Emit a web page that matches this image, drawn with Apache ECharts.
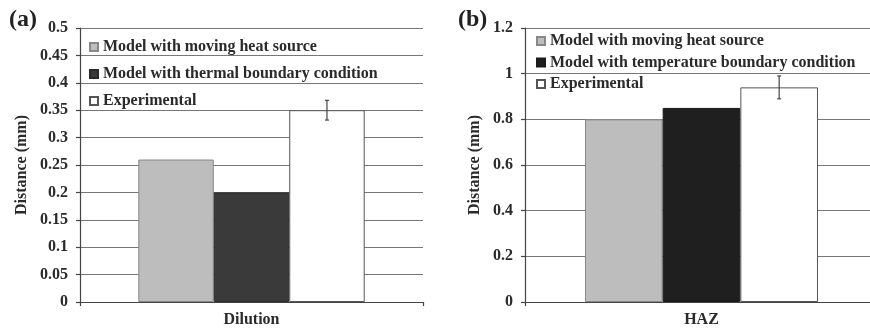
<!DOCTYPE html>
<html><head><meta charset="utf-8">
<script src="https://cdn.jsdelivr.net/npm/echarts@6/dist/echarts.min.js"></script>
<style>html,body{margin:0;padding:0;background:#fff}#c{width:870px;height:328px}</style>
</head><body><div id="c"></div>
<script>
// Panel (a)
const catA = ['Dilution'];
const namesA = ['Model with moving heat source', 'Model with thermal boundary condition', 'Experimental'];
const movingA = [0.26];
const thermalA = [0.20];
const expA = [0.35];
const expErrA = [0.018];
// Panel (b)
const catB = ['HAZ'];
const namesB = ['Model with moving heat source', 'Model with temperature boundary condition', 'Experimental'];
const movingB = [0.80];
const tempB = [0.85];
const expB = [0.94];
const expErrB = [0.05];

const FONT = '"Liberation Serif", "Times New Roman", serif';
const txt = {fontFamily: FONT, fontWeight: 'bold', fontSize: 16, color: '#2a2a2a'};
const BW = 0.22;

function yAxis(idx, max, interval, gap) {
  return {
    gridIndex: idx, type: 'value', min: 0, max: max, interval: interval,
    name: 'Distance (mm)', nameLocation: 'middle', nameGap: gap,
    nameTextStyle: Object.assign({}, txt),
    axisLine: {show: true, lineStyle: {color: '#444', width: 1.2}},
    axisTick: {show: true, length: 4, lineStyle: {color: '#444', width: 1.2}},
    axisLabel: Object.assign({margin: 12}, txt),
    splitLine: {show: true, lineStyle: {color: '#777', width: 1.2}}
  };
}
function xAxis(idx, cats) {
  return {
    gridIndex: idx, type: 'category', data: cats,
    name: cats[0], nameLocation: 'middle', nameGap: 10,
    nameTextStyle: Object.assign({}, txt),
    axisLine: {show: true, lineStyle: {color: '#444', width: 1.2}},
    axisTick: {show: true, length: 4, lineStyle: {color: '#444', width: 1.2}},
    axisLabel: {show: false}
  };
}
function bar(name, idx, data, color, border) {
  return {
    name: name, type: 'bar', xAxisIndex: idx, yAxisIndex: idx, data: data,
    barWidth: (BW * 100) + '%', barGap: '0%',
    itemStyle: {color: color, borderColor: border, borderWidth: 1},
    emphasis: {disabled: true}, z: 3
  };
}
function err(idx, vals, errs) {
  return {
    type: 'custom', xAxisIndex: idx, yAxisIndex: idx, z: 5,
    data: vals.map((v, i) => [i, v, errs[i]]),
    renderItem: function (params, api) {
      const band = api.size([1, 0])[0];
      const hi = api.coord([api.value(0), api.value(1) + api.value(2)]);
      const lo = api.coord([api.value(0), api.value(1) - api.value(2)]);
      const x = hi[0] + band * BW;
      const st = {stroke: '#444', lineWidth: 1.2};
      return {type: 'group', children: [
        {type: 'line', shape: {x1: x, y1: hi[1], x2: x, y2: lo[1]}, style: st},
        {type: 'line', shape: {x1: x - 2, y1: hi[1], x2: x + 2, y2: hi[1]}, style: st},
        {type: 'line', shape: {x1: x - 2, y1: lo[1], x2: x + 2, y2: lo[1]}, style: st}
      ]};
    }
  };
}
function legend(names, left, top, gap) {
  return {
    data: names, orient: 'vertical', left: left, top: top, itemGap: gap,
    itemWidth: 8, itemHeight: 8, icon: 'rect', selectedMode: false,
    textStyle: Object.assign({lineHeight: 16}, txt)
  };
}

const chart = echarts.init(document.getElementById('c'), null, {renderer: 'canvas'});
chart.setOption({
  animation: false,
  backgroundColor: '#fff',
  title: [
    {text: '(a)', left: 4, top: 3, textStyle: {fontFamily: FONT, fontWeight: 'bold', fontSize: 24, color: '#222'}},
    {text: '(b)', left: 453, top: 3, textStyle: {fontFamily: FONT, fontWeight: 'bold', fontSize: 24, color: '#222'}}
  ],
  grid: [
    {left: 80, top: 28, width: 343, height: 274, outerBoundsMode: 'none', containLabel: false},
    {left: 525, top: 28, width: 353, height: 274, outerBoundsMode: 'none', containLabel: false}
  ],
  legend: [legend(namesA, 84, 34, 11), legend(namesB, 531, 28, 5.5)],
  xAxis: [xAxis(0, catA), xAxis(1, catB)],
  yAxis: [yAxis(0, 0.5, 0.05, 50), yAxis(1, 1.2, 0.2, 42)],
  series: [
    bar(namesA[0], 0, movingA, '#bdbdbd', '#888'),
    bar(namesA[1], 0, thermalA, '#3a3a3a', '#2a2a2a'),
    bar(namesA[2], 0, expA, '#ffffff', '#555'),
    err(0, expA, expErrA),
    bar(namesB[0], 1, movingB, '#bdbdbd', '#888'),
    bar(namesB[1], 1, tempB, '#1f1f1f', '#1a1a1a'),
    bar(namesB[2], 1, expB, '#ffffff', '#555'),
    err(1, expB, expErrB)
  ]
});
</script></body></html>
